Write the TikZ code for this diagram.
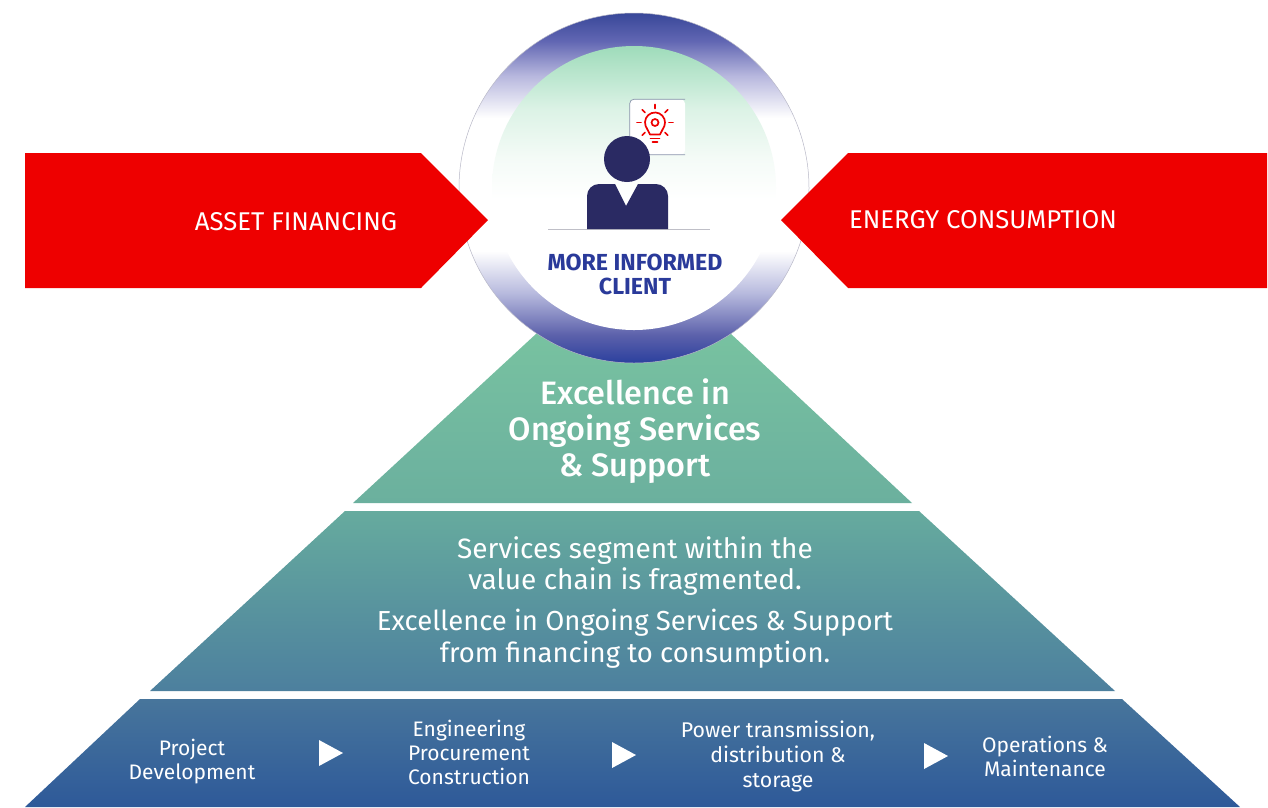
\documentclass[tikz,border=0pt]{standalone}
\usepackage{fontspec}
\setmainfont{Fira Sans}
\newfontfamily\medfont{Fira Sans Medium}
\usetikzlibrary{calc}
\definecolor{brandred}{HTML}{EE0000}
\definecolor{navytxt}{HTML}{2A3A9A}
\definecolor{persona}{HTML}{2A2A63}
\definecolor{ra}{rgb}{0.17,0.25,0.62}
\definecolor{rb}{rgb}{0.36,0.38,0.67}
\definecolor{rc}{rgb}{0.72,0.73,0.87}
\definecolor{rd}{rgb}{0.22,0.28,0.60}
\definecolor{re}{rgb}{0.38,0.40,0.70}
\definecolor{rf}{rgb}{0.72,0.72,0.87}
\definecolor{ga}{rgb}{0.86,0.95,0.90}
\definecolor{gc}{rgb}{0.96,0.985,0.97}
\definecolor{gb}{rgb}{0.62,0.86,0.73}
\definecolor{tonetop}{rgb}{0.47,0.76,0.63}
\definecolor{tonebot}{rgb}{0.42,0.69,0.62}
\definecolor{ttwotop}{rgb}{0.40,0.67,0.62}
\definecolor{ttwobot}{rgb}{0.30,0.50,0.62}
\definecolor{tthreetop}{rgb}{0.28,0.46,0.61}
\definecolor{tthreebot}{rgb}{0.18,0.35,0.60}
\definecolor{ringline}{rgb}{0.72,0.72,0.78}
\definecolor{boxline}{rgb}{0.55,0.58,0.68}
\definecolor{desk}{rgb}{0.75,0.75,0.78}
\pgfdeclareverticalshading{ringshade}{100bp}{
 color(0bp)=(ra);
 color(25bp)=(ra);
 color(29bp)=(rb);
 color(35bp)=(rc);
 color(41bp)=(white);
 color(60bp)=(white);
 color(66bp)=(rf);
 color(71bp)=(re);
 color(75bp)=(rd);
 color(100bp)=(rd)}
\pgfdeclareverticalshading{innershade}{100bp}{
 color(0bp)=(white);
 color(48bp)=(white);
 color(55bp)=(gc);
 color(64bp)=(ga);
 color(75bp)=(gb);
 color(100bp)=(gb)}
\tikzset{
 x=1pt,y=-1pt,
 banner/.style={fill=brandred,draw=none},
 bannertxt/.style={text=white,font=\fontsize{25.7}{30}\selectfont,inner sep=0pt,anchor=center},
 tiertxt/.style={text=white,align=center,inner sep=0pt,anchor=center},
 chevron/.style={fill=white,draw=none},
 ray/.style={draw=brandred,line width=1.6pt,line cap=round},
}
\begin{document}
\begin{tikzpicture}
\useasboundingbox (0,0) rectangle (1268,807);
% pyramid
\shade[top color=tonetop,bottom color=tonebot]
 (537,333) -- (730,333) -- (912,503) -- (353,503) -- cycle;
\shade[top color=ttwotop,bottom color=ttwobot]
 (345,511) -- (919,511) -- (1115,691) -- (150,691) -- cycle;
\shade[top color=tthreetop,bottom color=tthreebot]
 (140,699) -- (1122,699) -- (1240,807) -- (25,807) -- cycle;
% sphere
\node[circle,minimum size=350pt,inner sep=0pt,shading=ringshade,draw=ringline,line width=.5pt] (ring) at (634,188) {};
\node[circle,minimum size=284pt,inner sep=0pt,shading=innershade] (inner) at (634,188) {};
% banners
\fill[banner] (25,153) -- (421,153) -- (488,220) -- (421,288) -- (25,288) -- cycle;
\fill[banner] (1267,153) -- (848,153) -- (781,220) -- (848,288) -- (1267,288) -- cycle;
\node[bannertxt] (fin) at (296,222) {ASSET FINANCING};
\node[bannertxt] (con) at (983,220) {ENERGY CONSUMPTION};
% speech box
\node[fill=white,rounded corners=4pt,minimum width=55pt,minimum height=55pt,inner sep=0pt] (bubble) at (657.5,127) {};
\draw[boxline,line width=.7pt,rounded corners=4pt] (bubble.north east) -- (bubble.north west) -- (bubble.south west) -- (bubble.south east);
% bulb
\coordinate (bulb) at (655,122.5);
\draw[brandred,line width=1.7pt,line join=round] ($(bulb)+(-5,12)$) -- ($(bulb)+(-9.4,3.4)$) arc[start angle=160,end angle=380,radius=10] -- ($(bulb)+(5,12)$) -- cycle;
\draw[brandred,line width=1.7pt] (bulb) circle[radius=3.5];
\draw[ray] ($(bulb)+(-4.5,16)$) -- ($(bulb)+(4.5,16)$);
\draw[ray] ($(bulb)+(-2.5,19.5)$) -- ($(bulb)+(2.5,19.5)$);
\foreach \a in {0,45,135,180,225,270,315}
 \draw[ray] ($(bulb)+(\a:14)$) -- ($(bulb)+(\a:18)$);
% person
\draw[draw=desk,line width=1pt] (548,229) -- (710,229);
\fill[persona] (587,229) -- (587,196) arc[start angle=180,end angle=270,radius=12] -- (615,184) -- (626,206) -- (638,184) -- (656,184) arc[start angle=270,end angle=360,radius=12] -- (668,229) -- cycle;
\node[circle,fill=persona,minimum size=46pt,inner sep=0pt] (head) at (627,159) {};
\node[text=navytxt,align=center,inner sep=0pt,font=\bfseries\fontsize{23.2}{24}\selectfont] (client) at (635,274) {MORE INFORMED\\CLIENT};
% tier text
\node[tiertxt,font=\medfont\fontsize{32.4}{36}\selectfont] (t1) at (635,431) {Excellence in\\Ongoing Services\\\& Support};
\node[tiertxt,font=\fontsize{28}{31.5}\selectfont] (t2a) at (635,566) {Services segment within the\\value chain is fragmented.};
\node[tiertxt,font=\fontsize{27.5}{32}\selectfont] (t2b) at (635,639) {Excellence in Ongoing Services \& Support\\from financing to consumption.};
\node[tiertxt,font=\fontsize{21}{24}\selectfont] (b1) at (192,762) {Project\\Development};
\node[tiertxt,font=\fontsize{21}{24}\selectfont] (b2) at (469,752) {Engineering\\Procurement\\Construction};
\node[tiertxt,font=\fontsize{21.3}{25}\selectfont] (b3) at (778,756) {Power transmission,\\distribution \&\\storage};
\node[tiertxt,font=\fontsize{21}{24}\selectfont] (b4) at (1045,756) {Operations \&\\Maintenance};
\fill[chevron] (319,740) -- (343,753) -- (319,766) -- cycle;
\fill[chevron] (612,742) -- (636,755) -- (612,768) -- cycle;
\fill[chevron] (924,743) -- (948,756) -- (924,769) -- cycle;
\end{tikzpicture}
\end{document}
